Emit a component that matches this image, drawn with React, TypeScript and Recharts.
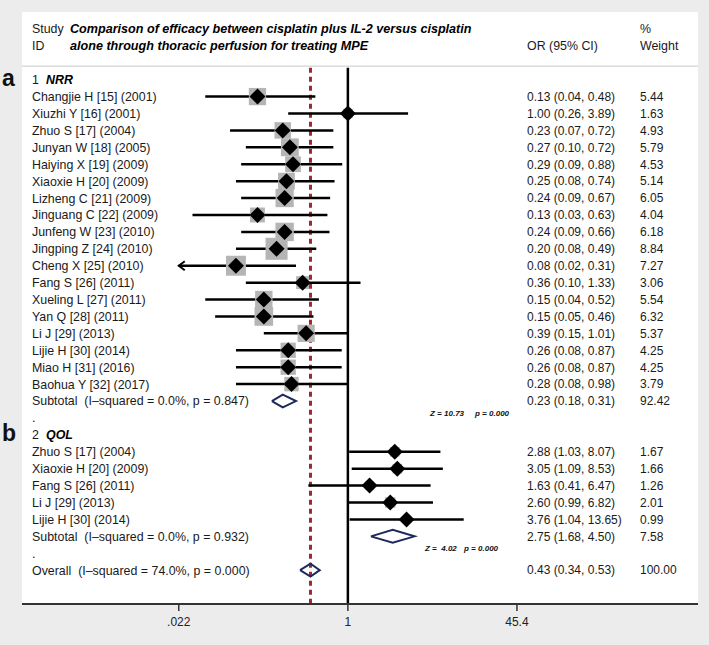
import React from 'react';
import {
  ComposedChart,
  XAxis,
  YAxis,
  Scatter,
  Line,
  ErrorBar,
  ReferenceLine,
  CartesianGrid,
} from 'recharts';

// ---------------- DATA ----------------
const titleLines = [
  'Comparison of efficacy between cisplatin plus IL-2 versus cisplatin',
  'alone through thoracic perfusion for treating MPE',
];

const groupNames = ['NRR', 'QOL'];
const panelLetters = ['a', 'b'];

const nrrNames = [
  'Changjie H [15] (2001)',
  'Xiuzhi Y [16] (2001)',
  'Zhuo S [17] (2004)',
  'Junyan W [18] (2005)',
  'Haiying X [19] (2009)',
  'Xiaoxie H [20] (2009)',
  'Lizheng C [21] (2009)',
  'Jinguang C [22] (2009)',
  'Junfeng W [23] (2010)',
  'Jingping Z [24] (2010)',
  'Cheng X [25] (2010)',
  'Fang S [26] (2011)',
  'Xueling L [27] (2011)',
  'Yan Q [28] (2011)',
  'Li J [29] (2013)',
  'Lijie H [30] (2014)',
  'Miao H [31] (2016)',
  'Baohua Y [32] (2017)',
];
const nrrOR = [0.13, 1.0, 0.23, 0.27, 0.29, 0.25, 0.24, 0.13, 0.24, 0.2, 0.08, 0.36, 0.15, 0.15, 0.39, 0.26, 0.26, 0.28];
const nrrLow = [0.04, 0.26, 0.07, 0.1, 0.09, 0.08, 0.09, 0.03, 0.09, 0.08, 0.02, 0.1, 0.04, 0.05, 0.15, 0.08, 0.08, 0.08];
const nrrHigh = [0.48, 3.89, 0.72, 0.72, 0.88, 0.74, 0.67, 0.63, 0.66, 0.49, 0.31, 1.33, 0.52, 0.46, 1.01, 0.87, 0.87, 0.98];
const nrrWeight = [5.44, 1.63, 4.93, 5.79, 4.53, 5.14, 6.05, 4.04, 6.18, 8.84, 7.27, 3.06, 5.54, 6.32, 5.37, 4.25, 4.25, 3.79];

const qolNames = [
  'Zhuo S [17] (2004)',
  'Xiaoxie H [20] (2009)',
  'Fang S [26] (2011)',
  'Li J [29] (2013)',
  'Lijie H [30] (2014)',
];
const qolOR = [2.88, 3.05, 1.63, 2.6, 3.76];
const qolLow = [1.03, 1.09, 0.41, 0.99, 1.04];
const qolHigh = [8.07, 8.53, 6.47, 6.82, 13.65];
const qolWeight = [1.67, 1.66, 1.26, 2.01, 0.99];

const subOR = [0.23, 2.75];
const subLow = [0.18, 1.68];
const subHigh = [0.31, 4.5];
const subWeight = [92.42, 7.58];
const subI2 = ['0.0%', '0.0%'];
const subP = ['0.847', '0.932'];
const subZ = ['10.73', ' 4.02'];
const subZp = ['0.000', '0.000'];

const overallOR = 0.43;
const overallLow = 0.34;
const overallHigh = 0.53;
const overallWeight = 100.0;
const overallI2 = '74.0%';
const overallP = '0.000';

const xTicks = [0.022, 1, 45.4];
const xTickLabels = ['.022', '1', '45.4'];

// ---------------- LAYOUT / STYLE ----------------
const W = 709;
const H = 645;
const FONT = "'Liberation Sans', Arial, sans-serif";
const X_LO = 0.00064;
const X_HI = 2700;
const Y_TOP = -4;
const Y_BOT = 31;
const COL_PANEL = 2;
const COL_STUDY = 32;
const COL_GROUP = 46;
const COL_TITLE = 70;
const COL_OR = 527;
const COL_W = 640;
const Z_X = [430, 425];
const P_X = [475, 464];
const NAVY = '#1d2a5c';
const RED = '#9b2a33';
const GREY_BOX = '#b5b5b5';
const TEXT = '#1a1a1a';

const groups = [
  { names: nrrNames, or: nrrOR, lo: nrrLow, hi: nrrHigh, w: nrrWeight },
  { names: qolNames, or: qolOR, lo: qolLow, hi: qolHigh, w: qolWeight },
];

const fmtCI = (o: number, l: number, h: number) => `${o.toFixed(2)} (${l.toFixed(2)}, ${h.toFixed(2)})`;

type Row = {
  x: number;
  y: number;
  kind: 'header1' | 'header2' | 'group' | 'study' | 'sub' | 'dot' | 'overall';
  label?: string;
  num?: number;
  panel?: string;
  ci?: string;
  weight?: string;
  gi?: number;
};

const rows: Row[] = [];
const points: { x: number; y: number; w: number; err: [number, number] }[] = [];
const arrows: { x: number; y: number }[] = [];
const diamonds: { key: string; data: { x: number; y: number }[] }[] = [];
const DH = 0.38;
const diamondOf = (o: number, l: number, h: number, y: number) => [
  { x: l, y },
  { x: o, y: y - DH },
  { x: h, y },
  { x: o, y: y + DH },
  { x: l, y },
];

rows.push({ x: 1, y: -3, kind: 'header1' });
rows.push({ x: 1, y: -2, kind: 'header2' });
let r = 0;
groups.forEach((g, gi) => {
  rows.push({ x: 1, y: r, kind: 'group', label: groupNames[gi], num: gi + 1, panel: panelLetters[gi] });
  r++;
  g.names.forEach((n, i) => {
    const lo = g.lo[i];
    const shownLo = Math.max(lo, xTicks[0]);
    rows.push({ x: 1, y: r, kind: 'study', label: n, ci: fmtCI(g.or[i], lo, g.hi[i]), weight: g.w[i].toFixed(2) });
    points.push({ x: g.or[i], y: r, w: g.w[i], err: [g.or[i] - shownLo, g.hi[i] - g.or[i]] });
    if (lo < xTicks[0]) arrows.push({ x: xTicks[0], y: r });
    r++;
  });
  rows.push({
    x: 1,
    y: r,
    kind: 'sub',
    gi,
    label: `Subtotal  (I\u2013squared = ${subI2[gi]}, p = ${subP[gi]})`,
    ci: fmtCI(subOR[gi], subLow[gi], subHigh[gi]),
    weight: subWeight[gi].toFixed(2),
  });
  diamonds.push({ key: `sub${gi}`, data: diamondOf(subOR[gi], subLow[gi], subHigh[gi], r) });
  r++;
  rows.push({ x: 1, y: r, kind: 'dot', label: '.' });
  r++;
});
rows.push({
  x: 1,
  y: r,
  kind: 'overall',
  label: `Overall  (I\u2013squared = ${overallI2}, p = ${overallP})`,
  ci: fmtCI(overallOR, overallLow, overallHigh),
  weight: overallWeight.toFixed(2),
});
diamonds.push({ key: 'overall', data: diamondOf(overallOR, overallLow, overallHigh, r) });

const txt = (x: number, y: number, s: string, extra: any = {}) => (
  <text
    x={x}
    y={y}
    dy="0.36em"
    fontFamily={FONT}
    fontSize={12.4}
    fill={TEXT}
    style={{ whiteSpace: 'pre' }}
    {...extra}
  >
    {s}
  </text>
);

const RowText = (props: any) => {
  const { cy, payload } = props;
  const row: Row = payload;
  const y = cy;
  if (!row || y == null) return null;
  const parts: React.ReactNode[] = [];
  if (row.kind === 'header1') {
    parts.push(txt(COL_STUDY, y, 'Study', { key: 'a' }));
    parts.push(txt(COL_TITLE, y, titleLines[0], { key: 'b', fontWeight: 'bold', fontStyle: 'italic', fontSize: 12.6, fill: '#000' }));
    parts.push(txt(COL_W, y, '%', { key: 'c' }));
  } else if (row.kind === 'header2') {
    parts.push(txt(COL_STUDY, y, 'ID', { key: 'a' }));
    parts.push(txt(COL_TITLE, y, titleLines[1], { key: 'b', fontWeight: 'bold', fontStyle: 'italic', fontSize: 12.6, fill: '#000' }));
    parts.push(txt(COL_OR, y, 'OR (95% CI)', { key: 'c' }));
    parts.push(txt(COL_W, y, 'Weight', { key: 'd' }));
  } else if (row.kind === 'group') {
    parts.push(
      <text key="p" x={COL_PANEL} y={y + 6} fontFamily={FONT} fontSize={23} fontWeight="bold" fill="#111">
        {row.panel}
      </text>
    );
    parts.push(txt(COL_STUDY, y, String(row.num), { key: 'n' }));
    parts.push(txt(COL_GROUP, y, row.label!, { key: 'l', fontWeight: 'bold', fontStyle: 'italic', fill: '#000' }));
  } else {
    parts.push(txt(COL_STUDY, y, row.label!, { key: 'l' }));
    if (row.ci) parts.push(txt(COL_OR, y, row.ci, { key: 'c', fontSize: 12 }));
    if (row.weight) parts.push(txt(COL_W, y, row.weight, { key: 'w', fontSize: 12 }));
    if (row.kind === 'sub' && row.gi !== undefined) {
      const zy = y + 12;
      parts.push(
        <text key="z" x={Z_X[row.gi]} y={zy} dy="0.36em" fontFamily={FONT} fontSize={8} fontWeight="bold" fontStyle="italic" fill="#111" style={{ whiteSpace: 'pre' }}>
          {`Z = ${subZ[row.gi]}`}
        </text>
      );
      parts.push(
        <text key="pz" x={P_X[row.gi]} y={zy} dy="0.36em" fontFamily={FONT} fontSize={8} fontWeight="bold" fontStyle="italic" fill="#111">
          {`p = ${subZp[row.gi]}`}
        </text>
      );
    }
  }
  return <g>{parts}</g>;
};

const BoxShape = (props: any) => {
  const { cx, cy, payload } = props;
  const s = 7.4 * Math.sqrt(payload.w);
  return <rect x={cx - s / 2} y={cy - s / 2} width={s} height={s} fill={GREY_BOX} />;
};

const DiamondShape = (props: any) => {
  const { cx, cy } = props;
  const d = 8;
  return <polygon points={`${cx - d},${cy} ${cx},${cy - d} ${cx + d},${cy} ${cx},${cy + d}`} fill="#000" />;
};

const ArrowShape = (props: any) => {
  const { cx, cy } = props;
  return (
    <path
      d={`M${cx + 6},${cy - 4.5} L${cx},${cy} L${cx + 6},${cy + 4.5}`}
      fill="none"
      stroke="#000"
      strokeWidth={2}
    />
  );
};

const XTick = (props: any) => {
  const { x, y, payload } = props;
  const i = xTicks.indexOf(payload.value);
  const label = i >= 0 ? xTickLabels[i] : String(payload.value);
  return (
    <text x={x} y={y} dy="0.71em" textAnchor="middle" fontFamily={FONT} fontSize={12} fill="#222">
      {label}
    </text>
  );
};

export default function App() {
  return (
    <div style={{ position: 'absolute', left: 0, top: 0, width: W, height: H, background: '#ececec' }}>
      <ComposedChart width={W} height={H} margin={{ top: 12, right: 11, bottom: 0, left: 22 }}>
        <CartesianGrid horizontal={false} vertical={false} fill="#ffffff" />
        <XAxis
          type="number"
          dataKey="x"
          scale="log"
          domain={[X_LO, X_HI]}
          ticks={xTicks}
          interval={0}
          height={41}
          axisLine={{ stroke: '#333', strokeWidth: 2 }}
          tickLine={{ stroke: '#333', strokeWidth: 1.5 }}
          tickSize={7}
          tickMargin={6}
          tick={<XTick />}
        />
        <YAxis
          type="number"
          dataKey="y"
          domain={[Y_TOP, Y_BOT]}
          reversed
          width={0}
          hide
        />
        <ReferenceLine
          segment={[
            { x: X_LO, y: -0.8 },
            { x: X_HI, y: -0.8 },
          ]}
          stroke="#c9c9c9"
          strokeWidth={1}
        />
        <ReferenceLine
          segment={[
            { x: overallOR, y: -0.7 },
            { x: overallOR, y: Y_BOT },
          ]}
          stroke={RED}
          strokeWidth={3}
          strokeDasharray="5 4"
        />
        <ReferenceLine
          segment={[
            { x: 1, y: -0.7 },
            { x: 1, y: Y_BOT },
          ]}
          stroke="#000"
          strokeWidth={2.5}
        />
        <Scatter data={rows} shape={<RowText />} isAnimationActive={false} />
        <Scatter data={points} shape={<BoxShape />} isAnimationActive={false} />
        <Scatter data={points} shape={<DiamondShape />} isAnimationActive={false}>
          <ErrorBar dataKey="err" direction="x" width={0} stroke="#000" strokeWidth={2.5} isAnimationActive={false} />
        </Scatter>
        <Scatter data={arrows} shape={<ArrowShape />} isAnimationActive={false} />
        {diamonds.map((d) => (
          <Line
            key={d.key}
            data={d.data}
            dataKey="y"
            type="linear"
            stroke={NAVY}
            strokeWidth={2}
            dot={false}
            activeDot={false}
            isAnimationActive={false}
          />
        ))}
      </ComposedChart>
    </div>
  );
}
